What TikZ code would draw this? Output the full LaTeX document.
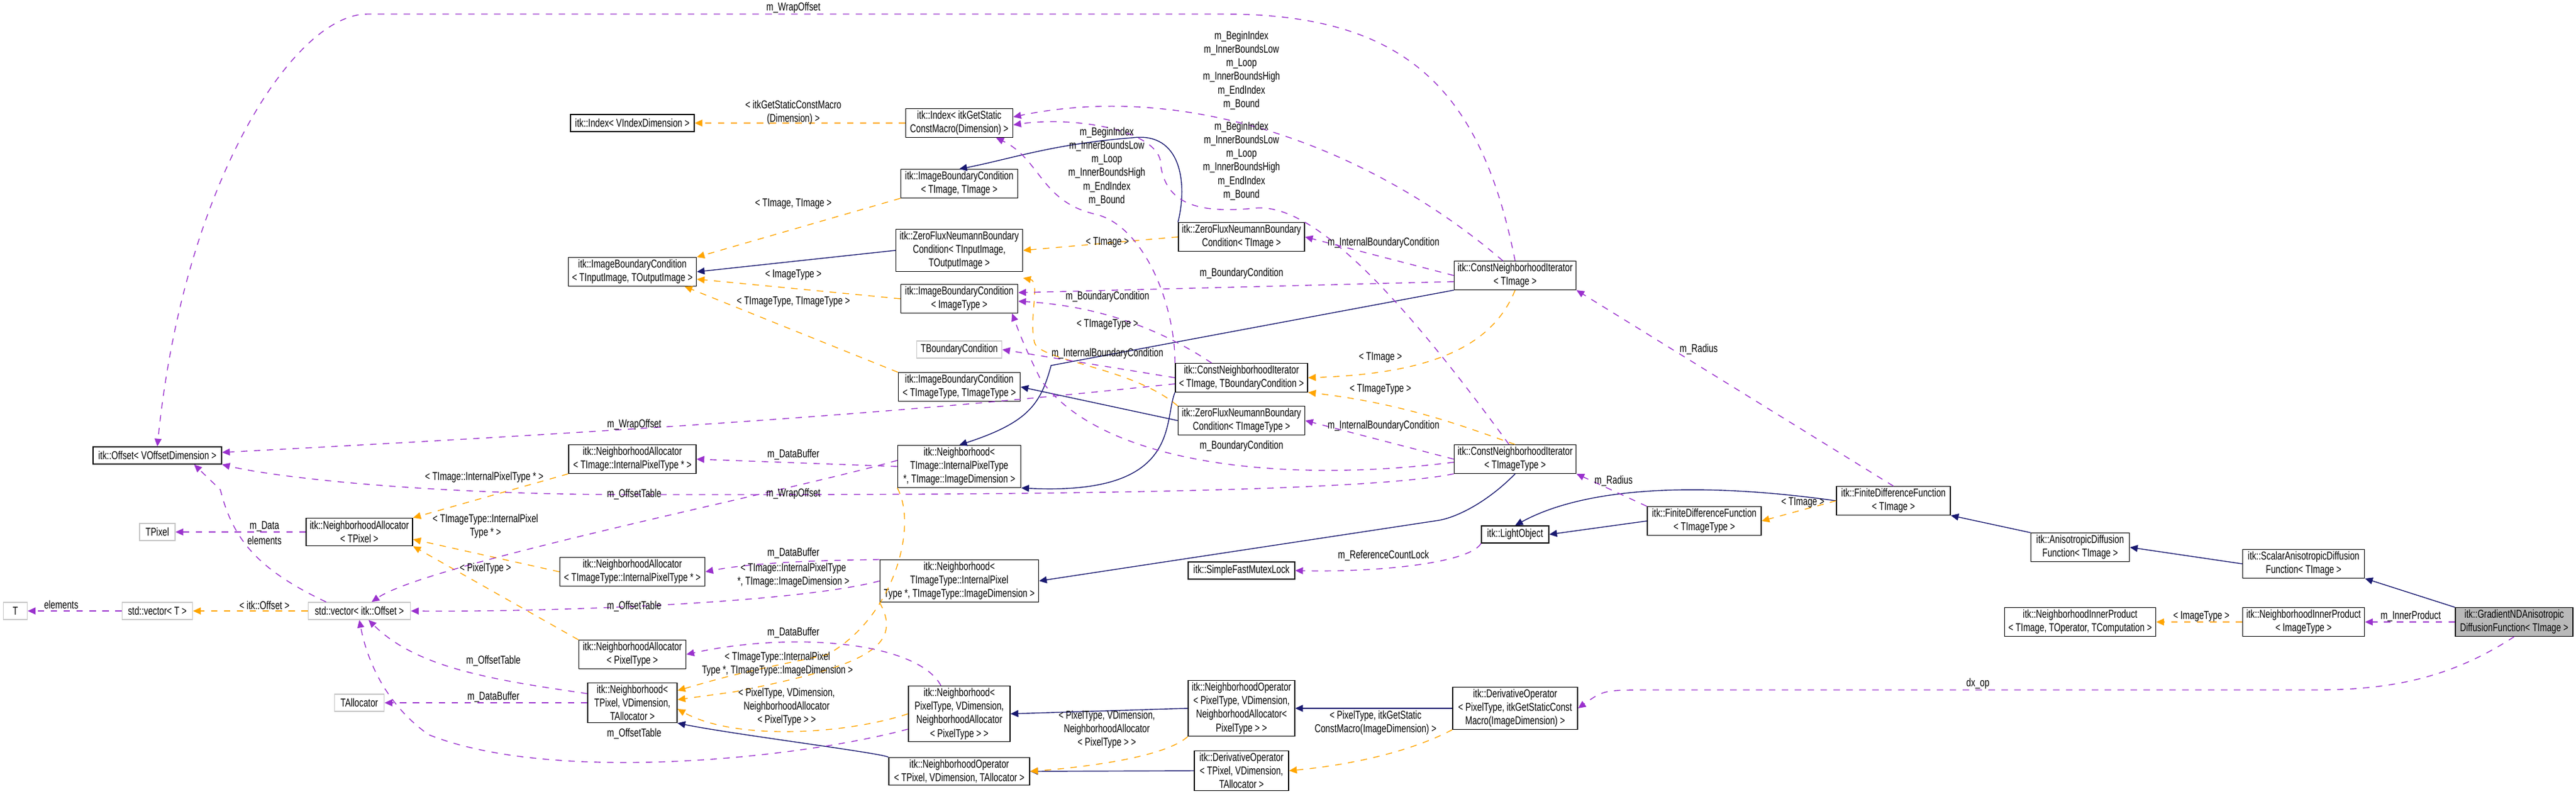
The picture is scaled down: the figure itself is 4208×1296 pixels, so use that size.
\documentclass[tikz,border=0pt]{standalone}
\usepackage{fontspec}
\setmainfont{Liberation Sans}[FakeStretch=0.74]
\usetikzlibrary{arrows.meta}
\definecolor{usecol}{HTML}{9A32CD}
\definecolor{tplcol}{HTML}{FFA500}
\definecolor{inhcol}{HTML}{191970}
\begin{document}
\begin{tikzpicture}[x=0.01cm, y=-0.01cm,
    font=\fontsize{5.3}{6.3}\selectfont,
    box/.style={draw, fill=white, align=center, inner sep=1pt, minimum height=0.28cm},
    ghost/.style={box, draw=gray!45},
    two/.style={minimum height=0.45cm},
    three/.style={minimum height=0.63cm},
    four/.style={minimum height=0.8cm},
    lbl/.style={align=center, inner sep=0pt},
    use/.style={draw=usecol, dashed, -{Triangle[length=3.6pt,width=3.2pt]}},
    tpl/.style={draw=tplcol, dashed, -{Triangle[length=3.6pt,width=3.2pt]}},
    inh/.style={draw=inhcol, -{Triangle[length=3.6pt,width=3.2pt]}}]
    \useasboundingbox (0,0) rectangle (4208,1296);

    % Classes
    \node[box, minimum width=2.02cm] (idxV) at (1033,201) {itk::Index< VIndexDimension >};
    \node[box, two, minimum width=1.75cm] (idxS) at (1567,201) {itk::Index< itkGetStatic\\ConstMacro(Dimension) >};
    \node[box, two, minimum width=2.09cm] (ibcIO) at (1033,444) {itk::ImageBoundaryCondition\\< TInputImage, TOutputImage >};
    \node[box, two, minimum width=1.91cm] (ibcTT) at (1567,300) {itk::ImageBoundaryCondition\\< TImage, TImage >};
    \node[box, three, minimum width=2.07cm] (zfIO) at (1567,409) {itk::ZeroFluxNeumannBoundary\\Condition< TInputImage,\\TOutputImage >};
    \node[box, two, minimum width=1.91cm] (ibcIT) at (1567,488) {itk::ImageBoundaryCondition\\< ImageType >};
    \node[ghost, minimum width=1.39cm] (tbc) at (1567,571) {TBoundaryCondition};
    \node[box, two, minimum width=1.99cm] (ibcTyTy) at (1567,632) {itk::ImageBoundaryCondition\\< TImageType, TImageType >};
    \node[box, two, minimum width=2.06cm] (zfT) at (2028,387) {itk::ZeroFluxNeumannBoundary\\Condition< TImage >};
    \node[box, two, minimum width=1.99cm] (cniT) at (2475,450) {itk::ConstNeighborhoodIterator\\< TImage >};
    \node[box, two, minimum width=2.16cm] (cniTB) at (2028,617) {itk::ConstNeighborhoodIterator\\< TImage, TBoundaryCondition >};
    \node[box, two, minimum width=2.07cm] (zfTy) at (2028,687) {itk::ZeroFluxNeumannBoundary\\Condition< TImageType >};
    \node[box, three, minimum width=2.01cm] (nbhI) at (1567,762) {itk::Neighborhood<\\TImage::InternalPixelType\\*, TImage::ImageDimension >};
    \node[box, two, minimum width=1.99cm] (cniTy) at (2475,750) {itk::ConstNeighborhoodIterator\\< TImageType >};
    \node[box, minimum width=2.1cm] (offset) at (257,744) {itk::Offset< VOffsetDimension >};
    \node[box, two, minimum width=2.08cm] (naI) at (1033,750) {itk::NeighborhoodAllocator\\< TImage::InternalPixelType * >};
    \node[ghost, minimum width=0.58cm] (tpixel) at (257,869) {TPixel};
    \node[box, two, minimum width=1.74cm] (naP) at (587,869) {itk::NeighborhoodAllocator\\< TPixel >};
    \node[box, two, minimum width=2.37cm] (naTy) at (1033,934) {itk::NeighborhoodAllocator\\< TImageType::InternalPixelType * >};
    \node[box, minimum width=1.1cm] (lobj) at (2475,873) {itk::LightObject};
    \node[box, two, minimum width=1.86cm] (fdfTy) at (2784,851) {itk::FiniteDifferenceFunction\\< TImageType >};
    \node[box, two, minimum width=1.86cm] (fdfT) at (3093,818) {itk::FiniteDifferenceFunction\\< TImage >};
    \node[box, minimum width=1.74cm] (mutex) at (2028,932) {itk::SimpleFastMutexLock};
    \node[box, three, minimum width=2.59cm] (nbhTy) at (1567,949) {itk::Neighborhood<\\TImageType::InternalPixel\\Type *, TImageType::ImageDimension >};
    \node[ghost, minimum width=0.39cm] (tT) at (25,998) {T};
    \node[ghost, minimum width=1.15cm] (vecT) at (257,998) {std::vector< T >};
    \node[ghost, minimum width=1.67cm] (vecO) at (587,998) {std::vector< itk::Offset >};
    \node[box, two, minimum width=1.75cm] (naPT) at (1033,1069) {itk::NeighborhoodAllocator\\< PixelType >};
    \node[box, three, minimum width=1.46cm] (nbhP) at (1033,1148) {itk::Neighborhood<\\TPixel, VDimension,\\TAllocator >};
    \node[ghost, minimum width=0.81cm] (talloc) at (587,1148) {TAllocator};
    \node[box, four, minimum width=1.66cm] (nbhPT) at (1567,1166) {itk::Neighborhood<\\PixelType, VDimension,\\NeighborhoodAllocator\\< PixelType > >};
    \node[box, four, minimum width=1.74cm] (nopPT) at (2028,1157) {itk::NeighborhoodOperator\\< PixelType, VDimension,\\NeighborhoodAllocator<\\PixelType > >};
    \node[box, three, minimum width=2.04cm] (dopP) at (2475,1157) {itk::DerivativeOperator\\< PixelType, itkGetStaticConst\\Macro(ImageDimension) >};
    \node[box, two, minimum width=2.3cm] (nopT) at (1567,1260) {itk::NeighborhoodOperator\\< TPixel, VDimension, TAllocator >};
    \node[box, three, minimum width=1.54cm] (dopT) at (2028,1259) {itk::DerivativeOperator\\< TPixel, VDimension,\\TAllocator >};
    \node[box, two, minimum width=1.61cm] (adf) at (3398,894) {itk::AnisotropicDiffusion\\Function< TImage >};
    \node[box, two, minimum width=1.99cm] (sadf) at (3763,921) {itk::ScalarAnisotropicDiffusion\\Function< TImage >};
    \node[box, two, minimum width=2.47cm] (nipT) at (3398,1016) {itk::NeighborhoodInnerProduct\\< TImage, TOperator, TComputation >};
    \node[box, two, minimum width=1.99cm] (nipI) at (3763,1016) {itk::NeighborhoodInnerProduct\\< ImageType >};
    \node[box, two, fill=gray!55, minimum width=1.92cm] (grad) at (4107,1016) {itk::GradientNDAnisotropic\\DiffusionFunction< TImage >};

    % Inheritance
    \draw[inh] (grad.north west) -- (sadf.south east);
    \draw[inh] (sadf.west) -- (adf.east);
    \draw[inh] (adf.north west) -- (fdfT.south east);
    \draw[inh] (fdfT.west) .. controls (2800,790) and (2600,790) .. (lobj.north);
    \draw[inh] (fdfTy.west) -- (lobj.east);
    \draw[inh] (dopP.west) -- (nopPT.east);
    \draw[inh] (dopT.west) -- (nopT.east);
    \draw[inh] (nopPT.west) -- (nbhPT.east);
    \draw[inh] (nopT.north west) .. controls (1440,1230) and (1200,1200) .. (nbhP.south east);
    \draw[inh] (cniTy.south) .. controls (2430,820) and (2380,845) .. (2350,850) -- (nbhTy.east);
    \draw[inh] (cniT.south west) -- (1717,597) .. controls (1700,660) and (1680,690) .. (nbhI.north);
    \draw[inh] (cniTB.south west) .. controls (1900,690) and (1930,810) .. (nbhI.south east);
    \draw[inh] (zfT.north west) .. controls (1940,300) and (1930,215) .. (1850,225) .. controls (1720,235) and (1650,260) .. (ibcTT.north);
    \draw[inh] (zfIO.west) -- (ibcIO.east);
    \draw[inh] (zfTy.west) -- (ibcTyTy.east);

    % Template instances
    \draw[tpl] (idxS.west) -- (idxV.east);
    \draw[tpl] (ibcTT.south west) -- (ibcIO.north east);
    \draw[tpl] (ibcIT.west) -- ([yshift=-0.12cm]ibcIO.east);
    \draw[tpl] (ibcTyTy.north west) -- ([xshift=-0.2cm]ibcIO.south east);
    \draw[tpl] (zfT.west) -- (zfIO.east);
    \draw[tpl] (zfTy.north west) .. controls (1850,600) and (1700,590) .. (1690,560) .. controls (1680,520) and (1700,460) .. ([yshift=-0.1cm]zfIO.south east);
    \draw[tpl] (cniT.south) .. controls (2440,560) and (2350,610) .. (cniTB.east);
    \draw[tpl] (cniTy.north) .. controls (2400,700) and (2300,660) .. (cniTB.south east);
    \draw[tpl] (fdfT.west) -- (fdfTy.east);
    \draw[tpl] (nipI.west) -- (nipT.east);
    \draw[tpl] (dopP.south west) .. controls (2300,1230) and (2200,1250) .. (dopT.east);
    \draw[tpl] (nopPT.south west) .. controls (1900,1240) and (1750,1255) .. (nopT.east);
    \draw[tpl] (nbhPT.west) .. controls (1380,1200) and (1200,1210) .. ([yshift=-0.1cm]nbhP.east);
    \draw[tpl] (nbhTy.south west) .. controls (1480,1060) and (1400,1090) .. (1200,1130) -- ([yshift=0.05cm]nbhP.east);
    \draw[tpl] (nbhI.south west) .. controls (1500,860) and (1460,1010) .. (1350,1070) .. controls (1200,1100) and (1170,1110) .. ([yshift=0.2cm]nbhP.east);
    \draw[tpl] (naPT.north west) -- (naP.south east);
    \draw[tpl] (naTy.west) -- ([yshift=-0.12cm]naP.east);
    \draw[tpl] (naI.south west) -- (naP.north east);
    \draw[tpl] (vecO.west) -- (vecT.east);

    % Members
    \draw[use] (grad.west) -- (nipI.east);
    \draw[use] (grad.south) .. controls (4000,1110) and (3900,1127) .. (3780,1127) -- (2700,1127) .. controls (2620,1127) .. (dopP.east);
    \draw[use] (fdfT.north) -- (cniT.south east);
    \draw[use] (fdfTy.north west) -- (cniTy.south east);
    \draw[use] (lobj.south west) .. controls (2400,920) and (2250,935) .. (mutex.east);
    \draw[use] (cniT.west) -- (zfT.east);
    \draw[use] ([yshift=-0.1cm]cniT.west) -- ([yshift=0.1cm]ibcIT.east);
    \draw[use] (cniT.north) .. controls (2420,150) and (2300,23) .. (2000,23) -- (600,23) .. controls (480,23) and (300,300) .. (offset.north);
    \draw[use] ([xshift=-0.2cm]cniT.north) .. controls (2250,250) and (1950,130) .. ([yshift=0.1cm]idxS.east);
    \draw[use] ([xshift=-0.1cm]cniTy.north) .. controls (2300,500) and (2150,330) .. (2050,340) .. controls (1950,350) and (1900,330) .. (1895,260) .. controls (1880,210) and (1750,190) .. ([yshift=-0.03cm]idxS.east);
    \draw[use] (cniTB.north west) .. controls (1920,500) and (1870,370) .. (1790,350) .. controls (1700,330) and (1700,260) .. ([xshift=0.6cm]idxS.south);
    \draw[use] (cniTB.west) -- (tbc.east);
    \draw[use] ([xshift=0.6cm]cniTB.north west) .. controls (1900,540) and (1800,500) .. ([yshift=-0.04cm]ibcIT.east);
    \draw[use] ([yshift=-0.1cm]cniTB.west) .. controls (1600,660) and (1300,690) .. ([yshift=0.05cm]offset.east);
    \draw[use] (cniTy.west) -- (zfTy.east);
    \draw[use] ([yshift=-0.05cm]cniTy.west) .. controls (2100,790) and (1800,760) .. (1700,620) .. controls (1670,560) and (1660,530) .. ([xshift=-0.1cm]ibcIT.south east);
    \draw[use] (cniTy.south west) .. controls (2200,810) and (1400,808) .. (1036,808) .. controls (700,808) and (450,780) .. (offset.south east);
    \draw[use] ([yshift=0.1cm]nbhI.west) .. controls (1300,800) and (700,920) .. ([xshift=0.2cm]vecO.north);
    \draw[use] (nbhI.west) -- (naI.east);
    \draw[use] (nbhTy.north west) .. controls (1400,915) and (1250,915) .. (naTy.east);
    \draw[use] (nbhTy.west) .. controls (1300,985) and (900,1000) .. (vecO.east);
    \draw[use] (naP.west) -- (tpixel.east);
    \draw[use] ([xshift=0.3cm]vecO.north west) .. controls (420,930) and (380,880) .. (360,800) -- ([xshift=0.6cm]offset.south);
    \draw[use] (vecT.west) -- (tT.east);
    \draw[use] (nbhP.west) -- (talloc.east);
    \draw[use] ([yshift=0.15cm]nbhP.west) .. controls (800,1110) and (680,1090) .. ([xshift=0.15cm]vecO.south);
    \draw[use] ([xshift=-0.3cm]nbhPT.north) .. controls (1500,1050) and (1300,1030) .. (naPT.east);
    \draw[use] ([yshift=-0.25cm]nbhPT.west) .. controls (1300,1240) and (900,1280) .. (700,1200) .. controls (630,1150) and (600,1080) .. (vecO.south);

    % Labels
    \node[lbl] (lWrapTop) at (1296,13) {m\_WrapOffset};
    \node[lbl] (lIdxTop) at (2028,115) {m\_BeginIndex\\m\_InnerBoundsLow\\m\_Loop\\m\_InnerBoundsHigh\\m\_EndIndex\\m\_Bound};
    \node[lbl] (lIdxMid) at (2028,263) {m\_BeginIndex\\m\_InnerBoundsLow\\m\_Loop\\m\_InnerBoundsHigh\\m\_EndIndex\\m\_Bound};
    \node[lbl] (lIdxLow) at (1808,272) {m\_BeginIndex\\m\_InnerBoundsLow\\m\_Loop\\m\_InnerBoundsHigh\\m\_EndIndex\\m\_Bound};
    \node[lbl] (lIdxTpl) at (1296,184) {< itkGetStaticConstMacro\\(Dimension) >};
    \node[lbl] (lTT) at (1296,333) {< TImage, TImage >};
    \node[lbl] (lIT) at (1296,449) {< ImageType >};
    \node[lbl] (lTyTy) at (1296,493) {< TImageType, TImageType >};
    \node[lbl] (lZfT) at (1809,396) {< TImage >};
    \node[lbl] (lIbcT) at (2260,397) {m\_InternalBoundaryCondition};
    \node[lbl] (lBcT) at (2028,447) {m\_BoundaryCondition};
    \node[lbl] (lBcTB) at (1809,485) {m\_BoundaryCondition};
    \node[lbl] (lZfTy) at (1809,530) {< TImageType >};
    \node[lbl] (lIbcTB) at (1809,578) {m\_InternalBoundaryCondition};
    \node[lbl] (lCniT) at (2255,584) {< TImage >};
    \node[lbl] (lCniTy) at (2255,636) {< TImageType >};
    \node[lbl] (lRadT) at (2775,571) {m\_Radius};
    \node[lbl] (lWrapTB) at (1036,694) {m\_WrapOffset};
    \node[lbl] (lIbcTy) at (2260,696) {m\_InternalBoundaryCondition};
    \node[lbl] (lBcTy) at (2028,729) {m\_BoundaryCondition};
    \node[lbl] (lBufI) at (1296,743) {m\_DataBuffer};
    \node[lbl] (lNaI) at (791,780) {< TImage::InternalPixelType * >};
    \node[lbl] (lRadTy) at (2636,786) {m\_Radius};
    \node[lbl] (lOffTy) at (1036,808) {m\_OffsetTable};
    \node[lbl] (lWrapTy) at (1296,807) {m\_WrapOffset};
    \node[lbl] (lTplFdf) at (2945,821) {< TImage >};
    \node[lbl] (lData) at (432,860) {m\_Data};
    \node[lbl] (lNaTy) at (793,860) {< TImageType::InternalPixel\\Type * >};
    \node[lbl] (lElemO) at (432,883) {elements};
    \node[lbl] (lBufTy) at (1296,904) {m\_DataBuffer};
    \node[lbl] (lLock) at (2260,908) {m\_ReferenceCountLock};
    \node[lbl] (lNaPT) at (793,929) {< PixelType >};
    \node[lbl] (lNbhI) at (1296,940) {< TImage::InternalPixelType\\*, TImage::ImageDimension >};
    \node[lbl] (lElemT) at (100,988) {elements};
    \node[lbl] (lVecO) at (432,989) {< itk::Offset >};
    \node[lbl] (lOffNTy) at (1036,991) {m\_OffsetTable};
    \node[lbl] (lInner) at (3938,1007) {m\_InnerProduct};
    \node[lbl] (lNip) at (3596,1007) {< ImageType >};
    \node[lbl] (lBufPT) at (1296,1034) {m\_DataBuffer};
    \node[lbl] (lOffP) at (806,1080) {m\_OffsetTable};
    \node[lbl] (lNbhTy) at (1270,1085) {< TImageType::InternalPixel\\Type *, TImageType::ImageDimension >};
    \node[lbl] (lDx) at (3231,1117) {dx\_op};
    \node[lbl] (lBufP) at (806,1139) {m\_DataBuffer};
    \node[lbl] (lNbhPT) at (1285,1155) {< PixelType, VDimension,\\NeighborhoodAllocator\\< PixelType > >};
    \node[lbl] (lDop) at (2247,1181) {< PixelType, itkGetStatic\\ConstMacro(ImageDimension) >};
    \node[lbl] (lNop) at (1808,1192) {< PixelType, VDimension,\\NeighborhoodAllocator\\< PixelType > >};
    \node[lbl] (lOffPT) at (1036,1199) {m\_OffsetTable};
\end{tikzpicture}
\end{document}
